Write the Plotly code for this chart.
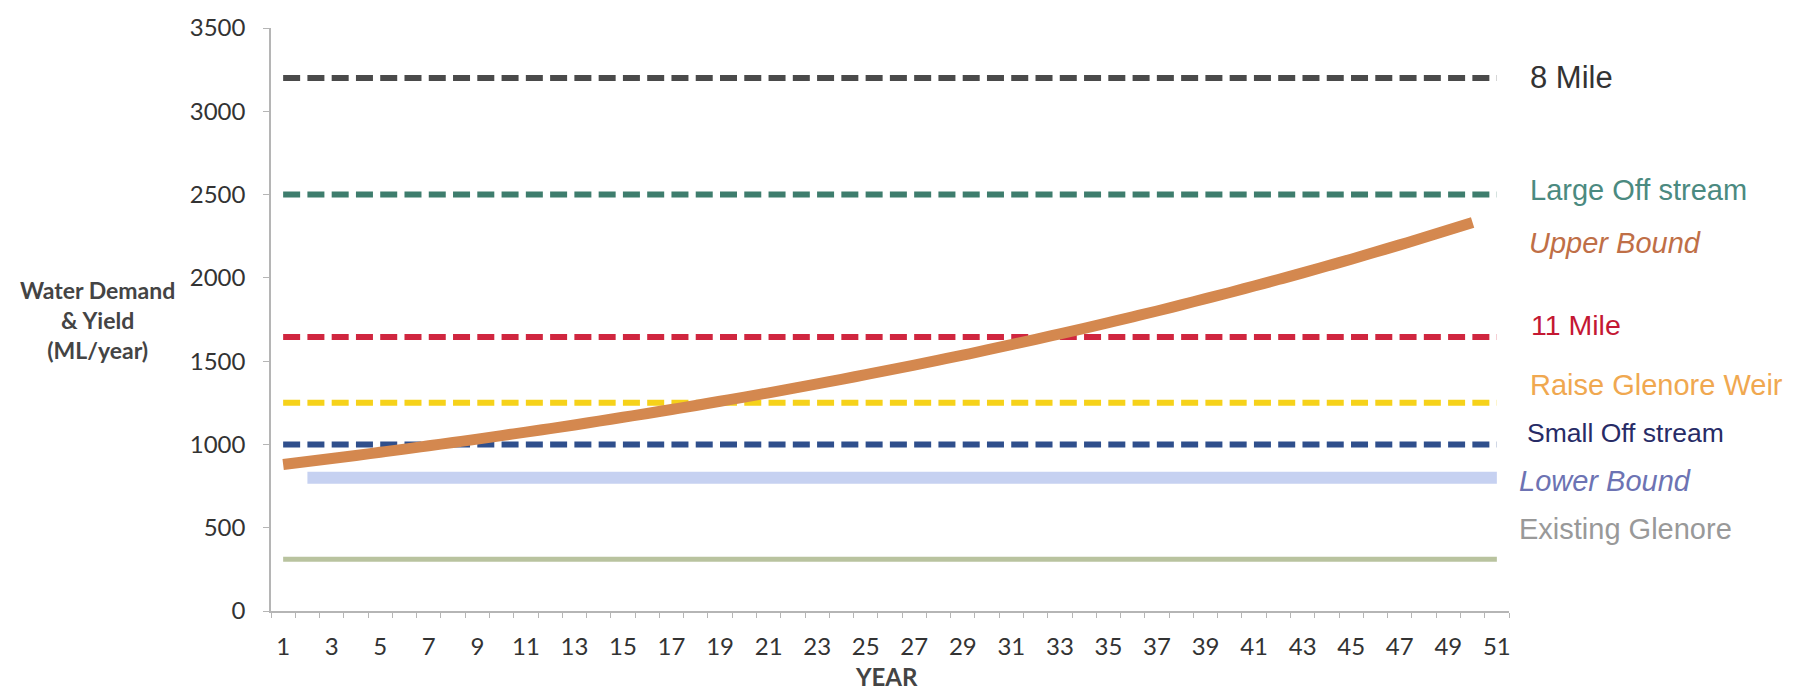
import plotly.graph_objects as go

# Planning horizon (years 1..51)
years = list(range(1, 52))

# Projected demand, upper bound scenario (ML/year), years 1..50
upper_bound = [880, 898, 916, 934, 953, 972, 992, 1012, 1032, 1053,
               1074, 1095, 1117, 1140, 1163, 1186, 1210, 1234, 1259, 1284,
               1310, 1337, 1363, 1391, 1419, 1447, 1476, 1506, 1536, 1567,
               1599, 1631, 1664, 1697, 1731, 1766, 1801, 1838, 1875, 1912,
               1951, 1990, 2030, 2071, 2112, 2155, 2198, 2242, 2287, 2333]
upper_years = years[:50]

# Lower bound demand (flat), years 2..51
lower_bound_value = 800
lower_years = years[1:]

# Supply option yields (ML/year)
option_names = ["8 Mile", "Large Off stream", "11 Mile", "Raise Glenore Weir",
                "Small Off stream", "Existing Glenore"]
option_yields = [3200, 2500, 1645, 1250, 1000, 310]

y_ticks = [0, 500, 1000, 1500, 2000, 2500, 3000, 3500]
x_tick_labels = list(range(1, 52, 2))

line_colors = {
    "8 Mile": "#4a4a4a",
    "Large Off stream": "#3e7d6d",
    "11 Mile": "#d0263f",
    "Raise Glenore Weir": "#f6d21a",
    "Small Off stream": "#2f4f8c",
    "Existing Glenore": "#b9c39f",
}

fig = go.Figure()

# Existing Glenore: thin solid line
fig.add_trace(go.Scatter(
    x=years, y=[option_yields[5]] * len(years), mode="lines",
    line=dict(color=line_colors["Existing Glenore"], width=5),
    hoverinfo="skip"))

# Lower bound: wide pale band
fig.add_trace(go.Scatter(
    x=lower_years, y=[lower_bound_value] * len(lower_years), mode="lines",
    line=dict(color="#c6d1f1", width=12),
    hoverinfo="skip"))

# Dashed yield lines
for name, val in zip(option_names[:5], option_yields[:5]):
    fig.add_trace(go.Scatter(
        x=years, y=[val] * len(years), mode="lines",
        line=dict(color=line_colors[name], width=6, dash="17px,7.27px"),
        hoverinfo="skip"))

# Upper bound demand curve
fig.add_trace(go.Scatter(
    x=upper_years, y=upper_bound, mode="lines",
    line=dict(color="#d4884f", width=11, shape="spline"),
    hoverinfo="skip"))

# Right-hand labels
label_font = "Liberation Sans, Arial, sans-serif"
labels = [
    ("8 Mile", 1.0153, 3200, "#333333", 31, False),
    ("Large Off stream", 1.0153, 2530, "#4b8a80", 29, False),
    ("Upper Bound", 1.0145, 2208, "#bf6f47", 29, True),
    ("11 Mile", 1.0160, 1715, "#c41833", 28.5, False),
    ("Raise Glenore Weir", 1.0153, 1356, "#f0a850", 29, False),
    ("Small Off stream", 1.0130, 1067, "#272b66", 26.5, False),
    ("Lower Bound", 1.0065, 778, "#6d73b3", 29, True),
    ("Existing Glenore", 1.0065, 490, "#999999", 29, False),
]
annotations = []
for text, xp, yv, col, size, italic in labels:
    annotations.append(dict(
        x=xp, y=yv, xref="paper", yref="y", xanchor="left", yanchor="middle",
        text=f"<i>{text}</i>" if italic else text, showarrow=False,
        font=dict(family=label_font, size=size, color=col)))

axis_font = "Lato, Open Sans, sans-serif"
# Y axis title
annotations.append(dict(
    x=-0.1405, y=0.50, xref="paper", yref="paper", showarrow=False,
    xanchor="center", yanchor="middle",
    text="<b>Water Demand<br>&amp; Yield<br>(ML/year)</b>",
    font=dict(family=axis_font, size=23, color="#444444"), align="center"))
# X axis title
annotations.append(dict(
    x=0.4968, y=-0.112, xref="paper", yref="paper", showarrow=False,
    text="<b>YEAR</b>", xanchor="center", yanchor="middle",
    font=dict(family=axis_font, size=24, color="#444444")))

fig.update_layout(
    width=1804, height=691,
    margin=dict(l=271, r=295, t=21, b=80),
    paper_bgcolor="white", plot_bgcolor="white",
    showlegend=False,
    annotations=annotations,
    hovermode=False,
)

fig.update_xaxes(
    range=[0.5, 51.5], showgrid=False, zeroline=False,
    showline=True, linecolor="#b5b5b5", linewidth=1.5,
    tickmode="array", tickvals=x_tick_labels, ticktext=[str(v) for v in x_tick_labels],
    ticks="outside", ticklen=5, tickcolor="rgba(0,0,0,0)",
    ticklabelstandoff=8,
    tickfont=dict(family=axis_font, size=24, color="#333333"),
    minor=dict(tickvals=[v + 0.5 for v in range(0, 52)], ticks="outside",
               ticklen=5, tickcolor="#b5b5b5", tickwidth=1.2, showgrid=False),
)
fig.update_yaxes(
    range=[0, 3500], showgrid=False, zeroline=False,
    showline=True, linecolor="#b5b5b5", linewidth=1.5,
    tickmode="array", tickvals=y_ticks,
    ticks="outside", ticklen=6, tickcolor="#b5b5b5", tickwidth=1.2,
    ticklabelstandoff=13,
    tickfont=dict(family=axis_font, size=24, color="#333333"),
)

fig.write_html("out.html")
